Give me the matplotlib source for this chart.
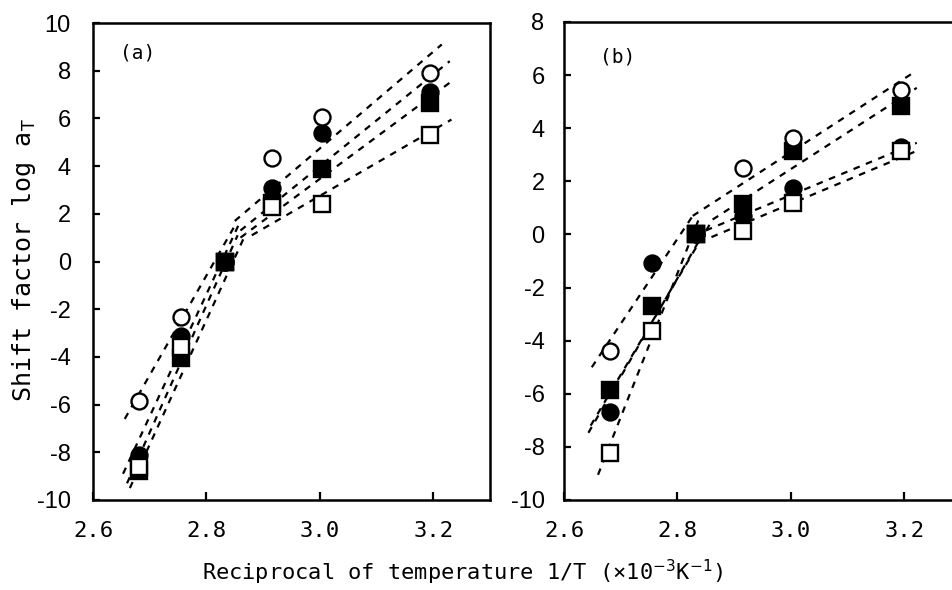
import numpy as np
import matplotlib
matplotlib.use('Agg')
from matplotlib import pyplot as plt

plt.rcParams['axes.unicode_minus'] = False

# 1/T values (x10^-3 K^-1) of the measuring temperatures
inv_T = [2.681, 2.755, 2.833, 2.915, 3.003, 3.195]

# panel (a) log aT, one list per symbol
a_open_circle = [-5.84, -2.31, 0, 4.35, 6.05, 7.92]
a_filled_circle = [-8.11, -3.12, 0, 3.07, 5.37, 7.12]
a_filled_square = [-8.8, -4.05, 0, 2.44, 3.87, 6.63]
a_open_square = [-8.6, -3.6, 0, 2.3, 2.41, 5.3]

# panel (b)
b_open_circle = [-4.39, np.nan, 0, 2.51, 3.64, 5.43]
b_filled_circle = [-6.69, -1.07, 0, 0.69, 1.76, 3.3]
b_filled_square = [-5.84, -2.7, 0, 1.13, 3.14, 4.83]
b_open_square = [-8.22, -3.64, 0, 0.12, 1.19, 3.14]

# reference temperature point
ref_x, ref_y = 2.833, 0

# dashed fit lines, order: open circle, filled circle, filled square, open square
# high temperature side (steep) and low temperature side
a_hi_x0 = [2.656, 2.653, 2.660, 2.665]
a_hi_y0 = [-6.6, -8.9, -9.3, -9.5]
a_hi_x1 = [2.85, 2.86, 2.855, 2.87]
a_hi_y1 = [1.5, 1.7, 1.1, 1.2]
a_lo_x0 = [2.85, 2.86, 2.86, 2.88]
a_lo_y0 = [1.7, 1.3, 1.0, 1.1]
a_lo_x1 = [3.215, 3.229, 3.232, 3.232]
a_lo_y1 = [9.1, 8.4, 7.55, 5.95]

b_hi_x0 = [2.649, 2.643, 2.647, 2.660]
b_hi_y0 = [-5.0, -7.47, -7.2, -9.05]
b_hi_x1 = [2.827, 2.85, 2.862, 2.84]
b_hi_y1 = [0.7, 0.2, 0.56, 0.7]
b_lo_x0 = [2.827, 2.85, 2.862, 2.86]
b_lo_y0 = [0.7, 0.15, 0.56, -0.1]
b_lo_x1 = [3.216, 3.222, 3.222, 3.228]
b_lo_y1 = [6.09, 3.45, 5.52, 3.2]

xticks = [2.6, 2.8, 3.0, 3.2]
xticklabels = ['2.6', '2.8', '3.0', '3.2']

mono = 'DejaVu Sans Mono'
narrow = ['Liberation Sans', 'DejaVu Sans']

fig = plt.figure(figsize=(9.52, 5.9), dpi=100)
ax_a = fig.add_axes([93/952, 1-500/590, 397/952, 477/590])
ax_b = fig.add_axes([564/952, 1-500/590, 397/952, 478/590])

dash = (0, (3, 3))
mk = dict(markersize=11.5, markeredgewidth=1.7, color='black', linestyle='none')


def draw(ax, oc, fc, fs, os_, hx0, hy0, hx1, hy1, lx0, ly0, lx1, ly1):
    for i in range(4):
        ax.plot([hx0[i], hx1[i]], [hy0[i], hy1[i]], color='black', lw=1.6, ls=dash, zorder=1)
        ax.plot([lx0[i], lx1[i]], [ly0[i], ly1[i]], color='black', lw=1.6, ls=dash, zorder=1)
    ax.plot(inv_T, fc, marker='o', markerfacecolor='black', zorder=2, **mk)
    ax.plot(inv_T, fs, marker='s', markerfacecolor='black', zorder=3, **mk)
    ax.plot(inv_T, os_, marker='s', markerfacecolor='white', zorder=4, **mk)
    ax.plot(inv_T, oc, marker='o', markerfacecolor='white', zorder=5, **mk)
    ax.plot([ref_x], [ref_y], marker='s', markerfacecolor='black', zorder=6, **mk)


draw(ax_a, a_open_circle, a_filled_circle, a_filled_square, a_open_square,
     a_hi_x0, a_hi_y0, a_hi_x1, a_hi_y1, a_lo_x0, a_lo_y0, a_lo_x1, a_lo_y1)
draw(ax_b, b_open_circle, b_filled_circle, b_filled_square, b_open_square,
     b_hi_x0, b_hi_y0, b_hi_x1, b_hi_y1, b_lo_x0, b_lo_y0, b_lo_x1, b_lo_y1)

ax_a.set_ylim(-10, 10)
ax_a.set_yticks(np.arange(-10, 11, 2))
ax_b.set_ylim(-10, 8)
ax_b.set_yticks(np.arange(-10, 9, 2))

for ax, pad in ((ax_a, 16), (ax_b, 14)):
    ax.set_xlim(2.6, 3.3)
    ax.set_xticks(xticks)
    ax.set_xticklabels(xticklabels, fontfamily=mono, fontsize=16)
    for lab in ax.get_yticklabels():
        lab.set_fontfamily(narrow)
        lab.set_fontsize(17)
    ax.tick_params(axis='y', direction='in', length=5, width=1.6, pad=pad)
    ax.tick_params(axis='x', direction='in', length=6, width=1.6, pad=15)
    for s in ax.spines.values():
        s.set_linewidth(1.8)

ax_a.text(0.068, 0.937, '(a)', transform=ax_a.transAxes, fontfamily=mono,
          fontsize=14, va='center', ha='left')
ax_b.text(0.09, 0.927, '(b)', transform=ax_b.transAxes, fontfamily=mono,
          fontsize=14, va='center', ha='left')

fig.text(24/952, 1-260/590, r'Shift factor log a$_\mathrm{T}$', rotation=90,
         fontfamily=mono, fontsize=18, ha='center', va='center')
fig.text(463/952, 1-572/590, r'Reciprocal of temperature 1/T (×10$^{-3}$K$^{-1}$)',
         fontfamily=mono, fontsize=15.8, ha='center', va='center')

fig.savefig('out.png', dpi=100)
